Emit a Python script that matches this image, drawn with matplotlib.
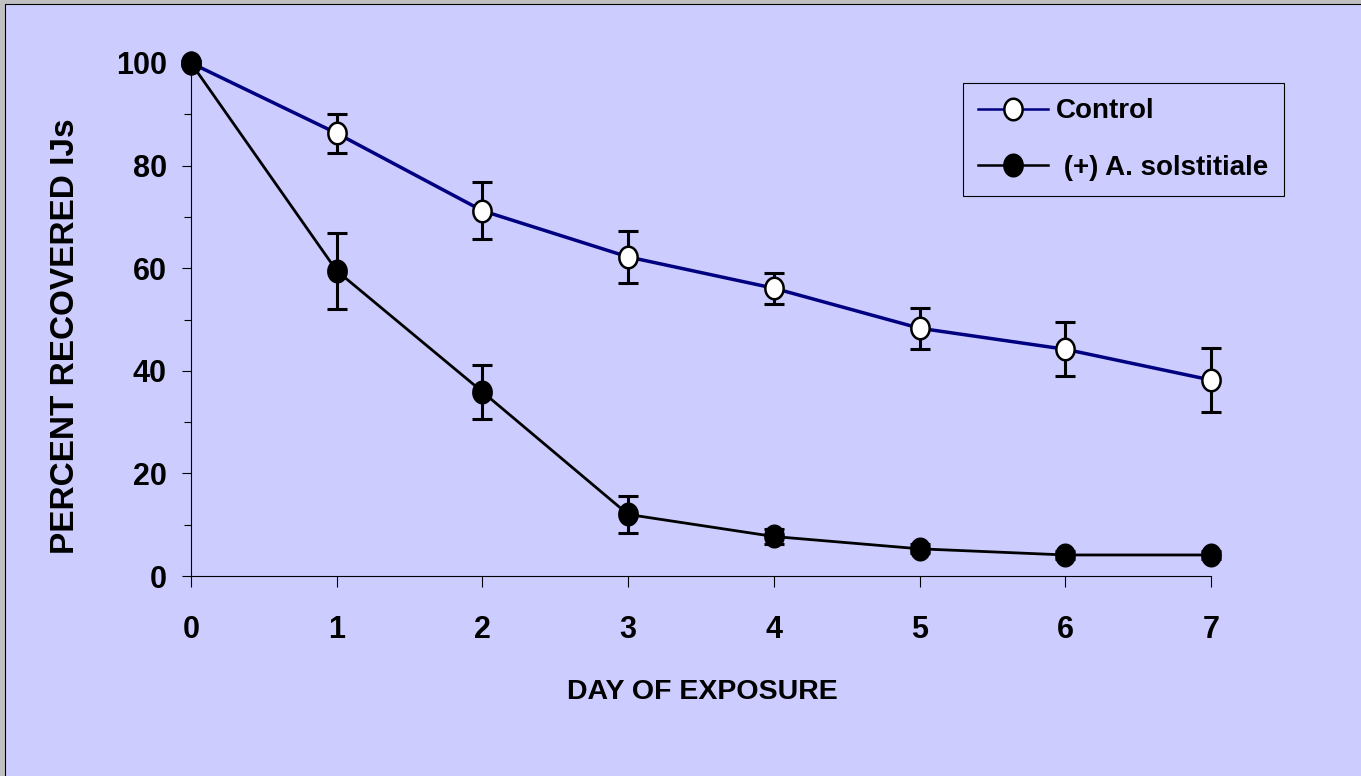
import matplotlib
matplotlib.use('Agg')
import matplotlib.pyplot as plt
import numpy as np
from matplotlib.path import Path
from matplotlib.patches import Rectangle
from matplotlib.lines import Line2D
from matplotlib.ticker import MultipleLocator

# ── data ─────────────────────────────────────────────────────────────────
days = [0, 1, 2, 3, 4, 5, 6, 7]
control = [100, 86.3, 71.2, 62.2, 56.1, 48.3, 44.2, 38.2]
control_err = [0, 3.8, 5.6, 5.0, 3.0, 4.0, 5.3, 6.2]
treated = [100, 59.5, 35.9, 12.0, 7.7, 5.3, 4.1, 4.1]
treated_err = [0, 7.4, 5.3, 3.6, 1.5, 0.9, 0.7, 0.7]
labels = ["Control", " (+) A. solstitiale"]

LAVENDER = '#CCCCFF'
NAVY = '#000080'

plt.rcParams['font.family'] = ['Liberation Sans', 'DejaVu Sans']
plt.rcParams['font.weight'] = 'bold'

# slightly tall ellipse marker, like the original
t = np.linspace(0, 2 * np.pi, 60)
ell = Path(np.column_stack([0.85 * np.cos(t), np.sin(t)]), closed=True)

W, H = 1361, 776
fig = plt.figure(figsize=(W / 100, H / 100), dpi=100)
fig.patch.set_facecolor('#C0C0C0')
fig.patches.append(Rectangle((5 / W, -0.02), 1.1, (H - 4) / H + 0.02,
                             transform=fig.transFigure, facecolor=LAVENDER,
                             edgecolor='black', linewidth=0.8, zorder=-10))

ax = fig.add_axes([191 / W, (H - 576) / H, (1211 - 191) / W, (576 - 63) / H])
ax.set_facecolor('none')

MS = 15.5
ax.errorbar(days, control, yerr=control_err, fmt='none', ecolor='black',
            elinewidth=2.2, capsize=7, capthick=2.2, zorder=2, clip_on=False)
ax.errorbar(days, treated, yerr=treated_err, fmt='none', ecolor='black',
            elinewidth=2.2, capsize=7, capthick=2.2, zorder=2, clip_on=False)
ax.plot(days, control, color=NAVY, lw=2.5, marker=ell, ms=MS,
        mfc='white', mec='black', mew=1.8, zorder=3, clip_on=False)
ax.plot(days, treated, color='black', lw=2.0, marker=ell, ms=MS,
        mfc='black', mec='black', mew=1.8, zorder=4, clip_on=False)

ax.set_xlim(0, 7)
ax.set_ylim(0, 100)
ax.set_xticks(days)
ax.yaxis.set_major_locator(MultipleLocator(20))
ax.yaxis.set_minor_locator(MultipleLocator(10))
for s in ['top', 'right']:
    ax.spines[s].set_visible(False)
for s in ['left', 'bottom']:
    ax.spines[s].set_linewidth(0.8)
ax.tick_params(axis='x', direction='out', length=8, width=0.8, pad=20, labelsize=22)
ax.tick_params(axis='y', which='major', direction='out', length=6.5, width=0.8,
               pad=11, labelsize=22)
ax.tick_params(axis='y', which='minor', direction='out', length=5, width=0.8)

fig.text(66 / W, (H - 336) / H, 'PERCENT RECOVERED IJs', rotation=90,
         ha='center', va='center', fontsize=24, fontweight='bold')
fig.text(702 / W, (H - 692) / H, 'DAY OF EXPOSURE', ha='center', va='center',
         fontsize=20.5, fontweight='bold')

handles = [
    Line2D([], [], color=NAVY, lw=1.8, marker=ell, ms=MS, mfc='white',
           mec='black', mew=1.8),
    Line2D([], [], color='black', lw=1.8, marker=ell, ms=MS, mfc='black',
           mec='black', mew=1.8),
]
leg = fig.legend(handles, labels, loc='upper left',
                 bbox_to_anchor=(963 / W, (H - 83) / H), frameon=True,
                 fancybox=False, edgecolor='black', facecolor=LAVENDER,
                 framealpha=1, fontsize=20, handlelength=2.5, handletextpad=0.3,
                 labelspacing=1.1, borderpad=0.55, borderaxespad=0)
leg.get_frame().set_linewidth(0.8)

fig.savefig('out.png', dpi=100, facecolor=fig.get_facecolor())
